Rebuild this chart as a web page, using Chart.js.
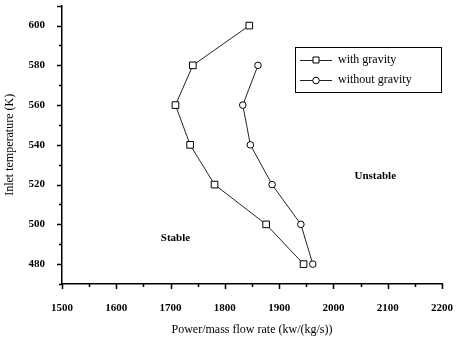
<!DOCTYPE html>
<html>
<head>
<meta charset="utf-8">
<script src="https://cdn.jsdelivr.net/npm/chart.js@4.4.1/dist/chart.umd.min.js"></script>
<style>
  html, body { margin: 0; padding: 0; background: #fff; }
  #wrap { width: 460px; height: 339px; }
</style>
</head>
<body>
<div id="wrap"><canvas id="stability-chart" width="460" height="339"></canvas></div>
<script>
// inlet temperatures (K) for each series
const tempsWithGravity = [600, 580, 560, 540, 520, 500, 480];
const tempsWithoutGravity = [580, 560, 540, 520, 500, 480];
// power / mass flow rate (kw/(kg/s))
const withGravity = [1845, 1741, 1709, 1736, 1781, 1876, 1945];
const withoutGravity = [1861, 1833, 1847, 1887, 1940, 1962];
const seriesNames = ["with gravity", "without gravity"];
// region labels and where they sit (data units)
const regionNames = ["Stable", "Unstable"];
const regionX = [1709, 2077];
const regionY = [493, 524.5];

const serif = "'Liberation Serif', 'Times New Roman', serif";

function toPoints(xs, ys) {
  return xs.map((x, i) => ({ x: x, y: ys[i] }));
}

// draws outward major/minor tick marks on both axes
const tickMarks = {
  id: "tickMarks",
  afterDraw(chart) {
    const c = chart.ctx;
    const xs = chart.scales.x;
    const ys = chart.scales.y;
    c.save();
    c.strokeStyle = "#000";
    c.lineWidth = 1.5;
    c.beginPath();
    xs.ticks.forEach((t) => {
      const px = Math.round(xs.getPixelForValue(t.value)) + 0.5;
      const len = t.value % 100 === 0 ? 5 : 3;
      c.moveTo(px, ys.bottom);
      c.lineTo(px, ys.bottom + len);
    });
    ys.ticks.forEach((t) => {
      const py = Math.round(ys.getPixelForValue(t.value)) + 0.5;
      const len = t.value % 20 === 0 || t.value === 610 ? 5 : 3;
      c.moveTo(xs.left, py);
      c.lineTo(xs.left - len, py);
    });
    c.stroke();
    c.restore();
  },
};

// "Stable" / "Unstable" text and the boxed legend
const extras = {
  id: "extras",
  afterDraw(chart) {
    const c = chart.ctx;
    const xs = chart.scales.x;
    const ys = chart.scales.y;
    c.save();
    c.fillStyle = "#000";
    c.font = "bold 11px " + serif;
    c.textAlign = "center";
    c.textBaseline = "middle";
    regionNames.forEach((name, i) => {
      c.fillText(name, xs.getPixelForValue(regionX[i]), ys.getPixelForValue(regionY[i]));
    });

    // legend box
    c.strokeStyle = "#000";
    c.lineWidth = 1;
    c.strokeRect(295.5, 47.5, 146, 45);
    c.font = "12px " + serif;
    c.textAlign = "left";
    chart.data.datasets.forEach((ds, i) => {
      const y = 60 + i * 20;
      c.strokeStyle = "#222";
      c.beginPath();
      c.moveTo(300, y + 0.5);
      c.lineTo(332, y + 0.5);
      c.stroke();
      c.fillStyle = "#fff";
      c.strokeStyle = "#000";
      c.beginPath();
      if (ds.pointStyle === "rect") {
        c.rect(313, y - 3, 6, 6);
      } else {
        c.arc(316, y + 0.5, 3.3, 0, Math.PI * 2);
      }
      c.fill();
      c.stroke();
      c.fillStyle = "#000";
      c.fillText(ds.label, 338, y);
    });
    c.restore();
  },
};

new Chart(document.getElementById("stability-chart"), {
  type: "scatter",
  data: {
    datasets: [
      {
        label: seriesNames[0],
        data: toPoints(withGravity, tempsWithGravity),
        showLine: true,
        borderColor: "#222",
        borderWidth: 1,
        pointStyle: "rect",
        pointRadius: 4.7,
        pointBackgroundColor: "#fff",
        pointBorderColor: "#000",
        pointBorderWidth: 1,
      },
      {
        label: seriesNames[1],
        data: toPoints(withoutGravity, tempsWithoutGravity),
        showLine: true,
        borderColor: "#222",
        borderWidth: 1,
        pointStyle: "circle",
        pointRadius: 3.3,
        pointBackgroundColor: "#fff",
        pointBorderColor: "#000",
        pointBorderWidth: 1,
      },
    ],
  },
  options: {
    responsive: false,
    animation: false,
    layout: { padding: { left: 0, right: 18, top: 0, bottom: 0 } },
    plugins: { legend: { display: false }, tooltip: { enabled: false } },
    scales: {
      x: {
        type: "linear",
        min: 1500,
        max: 2200,
        grid: { display: false },
        border: { display: true, color: "#000", width: 1.5 },
        ticks: {
          stepSize: 50,
          autoSkip: false,
          maxRotation: 0,
          padding: 10,
          color: "#000",
          font: { family: serif, size: 11, weight: "bold" },
          callback: (v) => (v % 100 === 0 ? v : ""),
        },
        title: {
          display: true,
          text: "Power/mass flow rate (kw/(kg/s))",
          color: "#000",
          font: { family: serif, size: 12 },
          padding: { top: 0, bottom: 2 },
        },
        afterFit: (s) => {
          s.height = 55;
          s.paddingLeft = 0;
          s.paddingRight = 0;
        },
      },
      y: {
        type: "linear",
        min: 470,
        max: 610,
        grid: { display: false },
        border: { display: true, color: "#000", width: 1.5 },
        ticks: {
          stepSize: 10,
          autoSkip: false,
          padding: 9,
          color: "#000",
          font: { family: serif, size: 11, weight: "bold" },
          callback: (v) => (v % 20 === 0 && v >= 480 && v <= 600 ? v : ""),
        },
        title: {
          display: true,
          text: "Inlet temperature (K)",
          color: "#000",
          font: { family: serif, size: 12 },
          padding: { top: 3, bottom: 0 },
        },
        afterFit: (s) => {
          s.width = 62;
          s.paddingTop = 0;
          s.paddingBottom = 0;
        },
      },
    },
  },
  plugins: [tickMarks, extras],
});
</script>
</body>
</html>
